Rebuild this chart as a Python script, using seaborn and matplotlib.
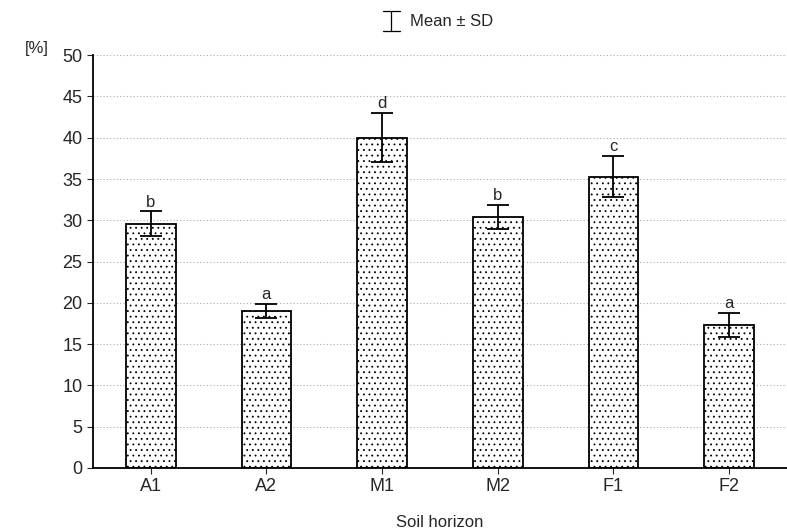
import pandas as pd
import matplotlib.pyplot as plt
import seaborn as sns
import numpy as np
from matplotlib.lines import Line2D

sns.set_style('white')
plt.rcParams['font.family'] = ['Liberation Sans', 'DejaVu Sans']
plt.rcParams['hatch.linewidth'] = 0.6
plt.rcParams['hatch.color'] = '#444444'

horizons = ['A1', 'A2', 'M1', 'M2', 'F1', 'F2']
means = [29.6, 19.0, 40.0, 30.4, 35.3, 17.3]
sds = [1.5, 0.9, 3.0, 1.5, 2.5, 1.5]
letters = ['b', 'a', 'd', 'b', 'c', 'a']

df = pd.DataFrame({'horizon': horizons, 'mean': means, 'sd': sds})

fig = plt.figure(figsize=(7.87, 5.31), dpi=100)
ax = fig.add_axes([0.118, 0.119, 0.882, 0.777])

sns.barplot(data=df, x='horizon', y='mean', color='white', edgecolor='black',
            linewidth=1.3, width=0.43, errorbar=None, ax=ax)
for p in ax.patches:
    p.set_hatch('...')

x = np.arange(len(horizons))
ax.errorbar(x, df['mean'], yerr=df['sd'], fmt='none', ecolor='black',
            elinewidth=1.3, capsize=8, capthick=1.3, zorder=5)
for xi, m, s, lab in zip(x, means, sds, letters):
    ax.text(xi, m + s + 0.2, lab, ha='center', va='bottom', fontsize=12)

ax.set_ylim(0, 50)
ax.set_xlim(-0.5, 5.5)
ax.set_yticks(range(0, 51, 5))
ax.yaxis.grid(True, linestyle=(0, (1, 2)), color='#aaaaaa', linewidth=0.8)
ax.set_axisbelow(True)
sns.despine(ax=ax, top=True, right=True)
for s in ['left', 'bottom']:
    ax.spines[s].set_linewidth(1.3)
    ax.spines[s].set_color('black')
ax.tick_params(axis='both', labelsize=13, length=4, direction='out', left=True, bottom=True)
ax.set_xlabel('Soil horizon', fontsize=12, labelpad=14)
ax.set_ylabel('')
fig.text(0.032, 0.9, '[%]', fontsize=12)

# legend symbol for error bar
lx, ly0, ly1, cw = 0.497, 0.9416, 0.979, 0.0108
fig.add_artist(Line2D([lx, lx], [ly0, ly1], color='black', lw=0.9))
fig.add_artist(Line2D([lx - cw, lx + cw], [ly0, ly0], color='black', lw=0.9))
fig.add_artist(Line2D([lx - cw, lx + cw], [ly1, ly1], color='black', lw=0.9))
fig.text(0.521, 0.960, 'Mean ± SD', ha='left', va='center', fontsize=12)

fig.savefig('out.png', dpi=100)
